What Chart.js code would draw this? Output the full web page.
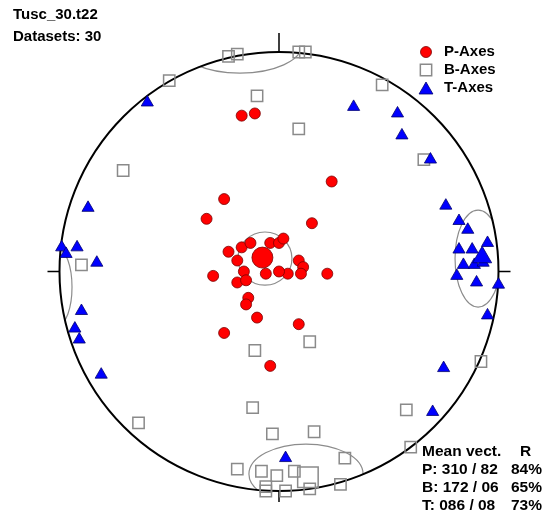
<!DOCTYPE html>
<html>
<head>
<meta charset="utf-8">
<script src="https://cdn.jsdelivr.net/npm/chart.js@4"></script>
<style>
  html, body { margin: 0; padding: 0; background: #fff; }
  #wrap { width: 545px; height: 518px; }
</style>
</head>
<body>
<div id="wrap"><canvas id="myChart" width="545" height="518"></canvas></div>
<script>
// stereonet positions, east / north, in units of the net radius
const pAxes = [
  [-0.17, 0.71], [-0.11, 0.72], [0.24, 0.41], [-0.25, 0.33], [-0.33, 0.24], [0.15, 0.22],
  [-0.23, 0.09], [-0.17, 0.11], [-0.13, 0.13], [-0.04, 0.13], [0.00, 0.13], [0.02, 0.15],
  [-0.19, 0.05], [-0.16, 0.00], [-0.06, -0.01], [-0.19, -0.05], [-0.15, -0.04], [-0.30, -0.02],
  [-0.14, -0.12], [-0.15, -0.15], [-0.10, -0.21], [-0.25, -0.28], [0.09, 0.05], [0.11, 0.02],
  [0.10, -0.01], [0.04, -0.01], [0.00, 0.00], [0.22, -0.01], [0.09, -0.24], [-0.04, -0.43]
];
const bAxes = [
  [-0.23, 0.98], [-0.19, 0.99], [0.09, 1.00], [0.12, 1.00], [-0.50, 0.87], [-0.10, 0.80],
  [0.47, 0.85], [0.09, 0.65], [-0.71, 0.46], [0.66, 0.51], [-0.90, 0.03], [-0.11, -0.36],
  [0.14, -0.32], [0.92, -0.41], [-0.12, -0.62], [-0.64, -0.69], [0.58, -0.63], [-0.03, -0.74],
  [0.16, -0.73], [0.60, -0.80], [0.30, -0.85], [-0.19, -0.90], [-0.08, -0.91], [-0.01, -0.93],
  [0.07, -0.91], [0.28, -0.97], [0.14, -0.99], [-0.06, -0.98], [-0.06, -1.00], [0.03, -1.00]
];
const tAxes = [
  [-0.60, 0.77], [0.34, 0.75], [0.54, 0.72], [0.56, 0.62], [0.69, 0.51], [-0.87, 0.29],
  [0.76, 0.30], [-0.99, 0.11], [-0.92, 0.11], [-0.97, 0.08], [-0.83, 0.04], [0.82, 0.23],
  [0.86, 0.19], [0.82, 0.10], [0.88, 0.10], [0.95, 0.13], [0.84, 0.03], [0.89, 0.03],
  [0.81, -0.02], [0.90, -0.05], [1.00, -0.06], [0.95, -0.20], [-0.90, -0.18], [-0.93, -0.26],
  [-0.91, -0.31], [-0.81, -0.47], [0.75, -0.44], [0.70, -0.64], [0.03, -0.85], [0.93, 0.04]
];

// mean vectors
const meanAxes = ['P', 'B', 'T'];
const meanTrend = [310, 172, 86];
const meanPlunge = [82, 6, 8];
const meanR = [84, 65, 73];

// confidence cones (wrap round the primitive for B and T)
const coneX = [-0.064, 0.123, -0.178, 0.907, -1.007];
const coneY = [0.059, -0.923, 1.032, 0.059, -0.071];
const coneRx = [0.123, 0.260, 0.282, 0.105, 0.064];
const coneRy = [0.121, 0.137, 0.128, 0.221, 0.173];

const fileName = 'Tusc_30.t22';
const nData = 30;

// equal-area (Schmidt) projection of a lineation
function project(trend, plunge) {
  const r = Math.SQRT2 * Math.sin((90 - plunge) / 2 * Math.PI / 180);
  const t = trend * Math.PI / 180;
  return { x: r * Math.sin(t), y: r * Math.cos(t) };
}
const toPts = arr => arr.map(p => ({ x: p[0], y: p[1] }));
const means = meanAxes.map((a, i) => project(meanTrend[i], meanPlunge[i]));

const pStyle = { pointStyle: 'circle', backgroundColor: '#ff0000', borderColor: '#7a0000', borderWidth: 0.8 };
const bStyle = { pointStyle: 'rect', backgroundColor: 'rgba(255,255,255,0)', borderColor: '#8a8a8a', borderWidth: 1.5 };
const tStyle = { pointStyle: 'triangle', backgroundColor: '#0000ff', borderColor: '#00006e', borderWidth: 0.8 };

const data = {
  datasets: [
    Object.assign({ label: 'T mean', data: [means[2]], pointRadius: 11, order: 0 }, tStyle),
    Object.assign({ label: 'B mean', data: [means[1]], pointRadius: 14.5, order: 1 }, bStyle),
    Object.assign({ label: 'P mean', data: [means[0]], pointRadius: 10.5, order: 2 }, pStyle),
    Object.assign({ label: 'T-Axes', data: toPts(tAxes), pointRadius: 7, order: 3 }, tStyle),
    Object.assign({ label: 'B-Axes', data: toPts(bAxes), pointRadius: 8, order: 4 }, bStyle),
    Object.assign({ label: 'P-Axes', data: toPts(pAxes), pointRadius: 5.5, order: 5 }, pStyle)
  ]
};
data.datasets.forEach(d => { d.clip = false; });

function marker(ctx, style, x, y, r) {
  ctx.save();
  ctx.fillStyle = style.backgroundColor;
  ctx.strokeStyle = style.borderColor;
  ctx.lineWidth = style.borderWidth;
  ctx.beginPath();
  if (style.pointStyle === 'circle') {
    ctx.arc(x, y, r, 0, Math.PI * 2);
  } else if (style.pointStyle === 'rect') {
    const s = r * Math.SQRT1_2;
    ctx.rect(x - s, y - s, 2 * s, 2 * s);
  } else {
    ctx.moveTo(x, y - r);
    ctx.lineTo(x + r * Math.sin(Math.PI * 2 / 3), y - r * Math.cos(Math.PI * 2 / 3));
    ctx.lineTo(x + r * Math.sin(Math.PI * 4 / 3), y - r * Math.cos(Math.PI * 4 / 3));
    ctx.closePath();
  }
  ctx.fill();
  ctx.stroke();
  ctx.restore();
}

const netPlugin = {
  id: 'net',
  beforeDatasetsDraw(chart) {
    const { ctx, scales: { x, y } } = chart;
    const cx = x.getPixelForValue(0), cy = y.getPixelForValue(0);
    const R = x.getPixelForValue(1) - cx;
    ctx.save();
    ctx.beginPath();
    ctx.arc(cx, cy, R, 0, Math.PI * 2);
    ctx.clip();
    ctx.strokeStyle = '#8c8c8c';
    ctx.lineWidth = 1.2;
    coneX.forEach((v, i) => {
      ctx.beginPath();
      ctx.ellipse(x.getPixelForValue(v), y.getPixelForValue(coneY[i]), coneRx[i] * R, coneRy[i] * R, 0, 0, Math.PI * 2);
      ctx.stroke();
    });
    ctx.restore();

    ctx.save();
    ctx.strokeStyle = '#000';
    ctx.lineWidth = 2;
    ctx.beginPath();
    ctx.arc(cx, cy, R, 0, Math.PI * 2);
    ctx.stroke();
    ctx.lineWidth = 1.5;
    ctx.beginPath();
    ctx.moveTo(cx, cy - R); ctx.lineTo(cx, cy - R - 19);
    ctx.moveTo(cx, cy + R); ctx.lineTo(cx, cy + R + 11);
    ctx.moveTo(cx - R, cy); ctx.lineTo(cx - R - 12, cy);
    ctx.moveTo(cx + R, cy); ctx.lineTo(cx + R + 12, cy);
    ctx.stroke();
    ctx.restore();
  },
  afterDraw(chart) {
    const ctx = chart.ctx;
    ctx.save();
    ctx.fillStyle = '#000';
    ctx.font = 'bold 15px "Liberation Sans", Arial, sans-serif';
    ctx.textBaseline = 'middle';
    ctx.fillText(fileName, 13, 15);
    ctx.fillText('Datasets: ' + nData, 13, 37);

    // legend
    marker(ctx, pStyle, 426, 52, 5.5);
    marker(ctx, bStyle, 426, 70, 8);
    marker(ctx, tStyle, 426, 90, 8);
    ctx.fillStyle = '#000';
    ctx.fillText('P-Axes', 444, 52);
    ctx.fillText('B-Axes', 444, 70);
    ctx.fillText('T-Axes', 444, 88);

    // mean vector table
    ctx.font = 'bold 15.5px "Liberation Sans", Arial, sans-serif';
    ctx.fillText('Mean vect.', 422, 452);
    ctx.fillText('R', 520, 452);
    meanAxes.forEach((a, i) => {
      const yy = 470 + i * 18;
      const tr = String(meanTrend[i]).padStart(3, '0');
      const pl = String(meanPlunge[i]).padStart(2, '0');
      ctx.textAlign = 'left';
      ctx.fillText(a + ': ' + tr + ' / ' + pl, 422, yy);
      ctx.textAlign = 'right';
      ctx.fillText(meanR[i] + '%', 542, yy);
    });
    ctx.restore();
  }
};

const config = {
  type: 'scatter',
  data,
  options: {
    responsive: false,
    animation: false,
    events: [],
    layout: { padding: { left: 59.5, right: 46.5, top: 52, bottom: 27 } },
    scales: {
      x: { type: 'linear', min: -1, max: 1, display: false },
      y: { type: 'linear', min: -1, max: 1, display: false }
    },
    plugins: {
      legend: { display: false },
      tooltip: { enabled: false }
    }
  },
  plugins: [netPlugin]
};

const myChart = new Chart(document.getElementById('myChart'), config);
</script>
</body>
</html>
